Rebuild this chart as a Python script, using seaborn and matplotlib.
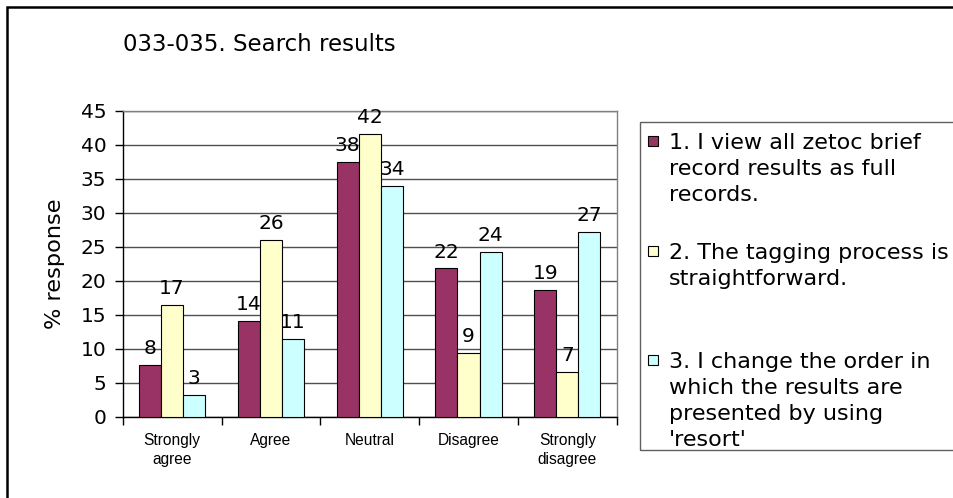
import matplotlib
matplotlib.use("Agg")
import matplotlib.pyplot as plt
import seaborn as sns
import pandas as pd
from matplotlib.patches import Rectangle

# ---- data ----
categories = ["Strongly\nagree", "Agree", "Neutral", "Disagree", "Strongly\ndisagree"]
series_names = [
    "1. I view all zetoc brief record results as full records.",
    "2. The tagging process is straightforward.",
    "3. I change the order in which the results are presented by using 'resort'",
]
legend_lines = [
    ["1. I view all zetoc brief", "record results as full", "records."],
    ["2. The tagging process is", "straightforward."],
    ["3. I change the order in", "which the results are", "presented by using", "'resort'"],
]
s1 = [7.6, 14.1, 37.4, 21.8, 18.7]
s2 = [16.5, 26.0, 41.6, 9.4, 6.6]
s3 = [3.2, 11.4, 33.9, 24.2, 27.1]
labels1 = ["8", "14", "38", "22", "19"]
labels2 = ["17", "26", "42", "9", "7"]
labels3 = ["3", "11", "34", "24", "27"]
yticks = [0, 5, 10, 15, 20, 25, 30, 35, 40, 45]
colors = ["#993366", "#FFFFCC", "#CCFFFF"]
title = "033-035. Search results"
ylabel = "% response"

rows = []
for name, vals in zip(series_names, [s1, s2, s3]):
    for c, v in zip(categories, vals):
        rows.append({"category": c, "series": name, "value": v})
df = pd.DataFrame(rows)

sns.set_theme(style="white")
plt.rcParams["font.family"] = ["DejaVu Sans"]
for k in ["text.color", "axes.labelcolor", "xtick.color", "ytick.color"]:
    plt.rcParams[k] = "black"

W, H = 954, 498
fig = plt.figure(figsize=(W / 100, H / 100), dpi=100)
fx = lambda px: px / W
fy = lambda py: 1 - py / H

ax_l, ax_r, ax_t, ax_b = 122.7, 616.7, 110.7, 416.7
ax = fig.add_axes([fx(ax_l), fy(ax_b), (ax_r - ax_l) / W, (ax_b - ax_t) / H])

sns.barplot(data=df, x="category", y="value", hue="series", order=categories,
            hue_order=series_names, palette=colors, saturation=1, width=0.67,
            gap=0, edgecolor="black", linewidth=0.8, ax=ax, legend=False,
            errorbar=None, zorder=3)

for cont, labs in zip(ax.containers, [labels1, labels2, labels3]):
    ax.bar_label(cont, labels=labs, padding=5, fontsize=14.5, color="black")

ax.set_ylim(0, 45)
ax.set_xlim(-0.5, 4.5)
ax.set_yticks(yticks)
ax.yaxis.grid(True, color="#505050", linewidth=1, zorder=0)
ax.set_axisbelow(True)
ax.tick_params(axis="y", labelsize=14.5, length=5.8, width=1, color="black", left=True,
               direction="out", pad=6)
ax.set_xticks(range(len(categories)))
ax.set_xticklabels(categories, fontsize=11.2, family=["Liberation Sans"], linespacing=1.3)
ax.tick_params(axis="x", length=0, pad=12)
ax.set_xticks([-0.5, 0.5, 1.5, 2.5, 3.5, 4.5], minor=True)
ax.tick_params(axis="x", which="minor", length=6, width=1, color="black", bottom=True,
               direction="out")
ax.set_xlabel("")
ax.set_ylabel(ylabel, fontsize=16.2)
ax.yaxis.set_label_coords(-0.117, 0.5)
for side in ["left", "bottom"]:
    ax.spines[side].set_color("black")
    ax.spines[side].set_linewidth(1)
for side in ["top", "right"]:
    ax.spines[side].set_color("#808080")
    ax.spines[side].set_linewidth(1)

# title
fig.text(fx(123), fy(51), title, fontsize=16.5, ha="left", va="baseline")

# outer chart frame
fig.patches.append(Rectangle((fx(7.5), fy(520)), fx(980), fy(7.5) - fy(520),
                             transform=fig.transFigure, fill=False,
                             edgecolor="black", linewidth=1.8))

# legend box
fig.patches.append(Rectangle((fx(640), fy(450)), fx(330), fy(122.3) - fy(450),
                             transform=fig.transFigure, fill=False,
                             edgecolor="#606060", linewidth=1))
first_baselines = [149.3, 259.3, 368.3]
for color, lines, b0 in zip(colors, legend_lines, first_baselines):
    fig.patches.append(Rectangle((fx(648), fy(b0 - 3)), 10 / W, 10 / H,
                                 transform=fig.transFigure, facecolor=color,
                                 edgecolor="black", linewidth=0.8))
    for i, line in enumerate(lines):
        fig.text(fx(669), fy(b0 + i * 25.8), line, fontsize=16,
                 ha="left", va="baseline")

fig.savefig("out.png", dpi=100)
